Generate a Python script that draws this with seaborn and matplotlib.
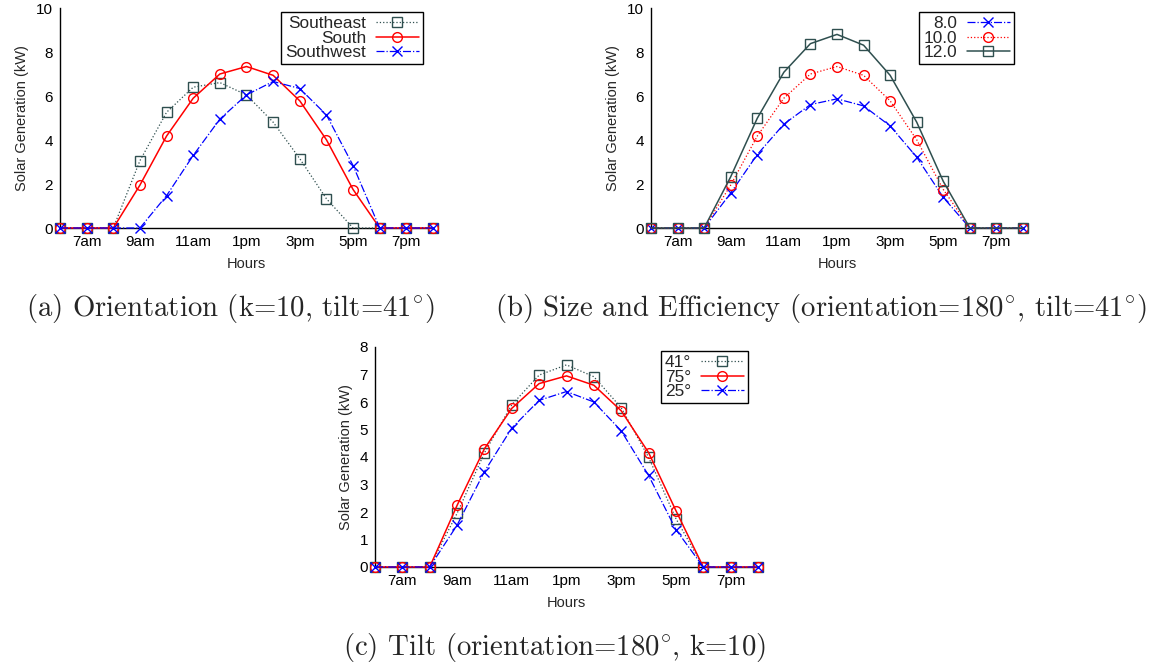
import numpy as np
import pandas as pd
import matplotlib
matplotlib.use("Agg")
import matplotlib.pyplot as plt
import seaborn as sns

hours = [6, 7, 8, 9, 10, 11, 12, 13, 14, 15, 16, 17, 18, 19, 20]
tick_hours = [7, 9, 11, 13, 15, 17, 19]
tick_labels = ["7am", "9am", "11am", "1pm", "3pm", "5pm", "7pm"]

# (a) Orientation
southeast = [0, 0, 0, 3.06, 5.26, 6.40, 6.61, 6.05, 4.81, 3.15, 1.33, 0, 0, 0, 0]
south = [0, 0, 0, 1.95, 4.18, 5.90, 7.00, 7.34, 6.94, 5.78, 4.01, 1.75, 0, 0, 0]
southwest = [0, 0, 0, 0, 1.47, 3.30, 4.95, 6.05, 6.66, 6.34, 5.14, 2.84, 0, 0, 0]

# (b) Size and efficiency
size_8 = [0, 0, 0, 1.59, 3.34, 4.72, 5.61, 5.87, 5.55, 4.64, 3.22, 1.39, 0, 0, 0]
size_10 = [0, 0, 0, 1.95, 4.18, 5.90, 7.00, 7.34, 6.94, 5.78, 4.01, 1.75, 0, 0, 0]
size_12 = [0, 0, 0, 2.33, 4.99, 7.08, 8.38, 8.80, 8.31, 6.94, 4.81, 2.12, 0, 0, 0]

# (c) Tilt
tilt_41 = [0, 0, 0, 1.95, 4.15, 5.90, 6.98, 7.35, 6.92, 5.79, 3.99, 1.76, 0, 0, 0]
tilt_75 = [0, 0, 0, 2.24, 4.30, 5.77, 6.67, 6.95, 6.61, 5.68, 4.16, 2.05, 0, 0, 0]
tilt_25 = [0, 0, 0, 1.52, 3.47, 5.05, 6.06, 6.38, 6.00, 4.95, 3.33, 1.36, 0, 0, 0]

sns.set_style("white")
plt.rcParams["font.family"] = ["Liberation Sans", "DejaVu Sans"]
plt.rcParams["mathtext.fontset"] = "cm"

GRAY = "#2F4F4F"
RED = "#FF0000"
BLUE = "#0000FF"

fig = plt.figure(figsize=(11.6, 6.66), dpi=100)
W, H = 1160, 666


def make_ax(left, top, right, bottom):
    return fig.add_axes([left / W, 1 - bottom / H, (right - left) / W, (bottom - top) / H])


ax_a = make_ax(60, 8, 433, 228)
ax_b = make_ax(651, 8, 1023, 228)
ax_c = make_ax(375, 347, 758, 567)

styles = {
    "sq_dot": dict(color=GRAY, marker="s", linestyle=":", linewidth=0.9),
    "sq_solid": dict(color=GRAY, marker="s", linestyle="-", linewidth=1.1),
    "ci_solid": dict(color=RED, marker="o", linestyle="-", linewidth=1.1),
    "ci_dot": dict(color=RED, marker="o", linestyle=":", linewidth=0.9),
    "x_dashdot": dict(color=BLUE, marker="x", linestyle="-.", linewidth=0.9),
}


def draw(ax, series, ymax, yticks, legend_right):
    for label, vals, key in series:
        st = styles[key]
        df = pd.DataFrame({"Hours": hours, "kW": vals})
        sns.lineplot(data=df, x="Hours", y="kW", ax=ax, label=label,
                     color=st["color"], marker=st["marker"],
                     linestyle=st["linestyle"], linewidth=st["linewidth"],
                     markersize=7 if st["marker"] != "x" else 7.5,
                     markerfacecolor="none", markeredgecolor=st["color"],
                     markeredgewidth=1.0, clip_on=False, zorder=3)
    ax.set_xlim(6, 20)
    ax.set_ylim(0, ymax)
    ax.set_xticks(tick_hours)
    ax.set_xticklabels(tick_labels)
    ax.set_yticks(yticks)
    ax.tick_params(axis="both", direction="in", length=4, width=0.8,
                   labelsize=11, colors="black", pad=5)
    ax.tick_params(axis="y", pad=5)
    for s in ["top", "right"]:
        ax.spines[s].set_visible(False)
    for s in ["left", "bottom"]:
        ax.spines[s].set_color("black")
        ax.spines[s].set_linewidth(1.0)
        ax.spines[s].set_zorder(2)
    ax.set_xlabel("Hours", fontsize=10.5, labelpad=6)
    ax.set_ylabel("Solar Generation (kW)", fontsize=10.5, labelpad=5)
    leg = ax.legend(loc="upper right", bbox_to_anchor=(legend_right, 0.982),
                    borderaxespad=0, markerfirst=False, fontsize=12.4,
                    labelspacing=-0.04, handlelength=2.5, handletextpad=0.55,
                    borderpad=0.25, fancybox=False, framealpha=1,
                    edgecolor="black")
    leg.get_frame().set_linewidth(1.0)


draw(ax_a, [("Southeast", southeast, "sq_dot"),
            ("South", south, "ci_solid"),
            ("Southwest", southwest, "x_dashdot")],
     10, [0, 2, 4, 6, 8, 10], 0.973)
draw(ax_b, [("8.0", size_8, "x_dashdot"),
            ("10.0", size_10, "ci_dot"),
            ("12.0", size_12, "sq_solid")],
     10, [0, 2, 4, 6, 8, 10], 0.976)
draw(ax_c, [("41°", tilt_41, "sq_dot"),
            ("75°", tilt_75, "ci_solid"),
            ("25°", tilt_25, "x_dashdot")],
     8, [0, 1, 2, 3, 4, 5, 6, 7, 8], 0.974)

cap_kw = dict(ha="center", va="baseline", fontsize=20.7, family="cmr10")
fig.text(230 / W, 1 - 316 / H, r"(a) Orientation (k=10, tilt=$41^{\circ}$)", **cap_kw)
fig.text(821 / W, 1 - 316 / H, r"(b) Size and Efficiency (orientation=$180^{\circ}$, tilt=$41^{\circ}$)", **cap_kw)
fig.text(555 / W, 1 - 655 / H, r"(c) Tilt (orientation=$180^{\circ}$, k=10)", **cap_kw)

fig.savefig("out.png", dpi=100)
